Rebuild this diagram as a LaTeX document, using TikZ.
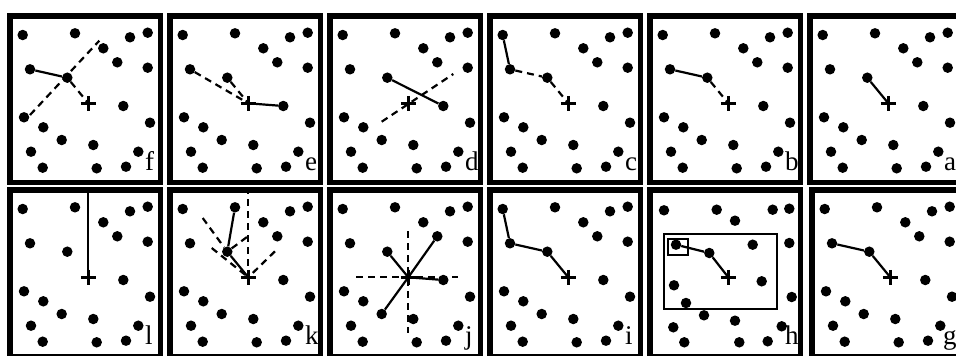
\documentclass[tikz,border=0pt]{standalone}
\usepackage{fontspec}
\setmainfont{Liberation Serif}
\usetikzlibrary{calc}
\tikzset{
  panelframe/.style={line width=5.5pt},
  dot/.style={circle, fill, inner sep=0pt, minimum size=10.5pt},
  solidline/.style={line width=2.2pt},
  dashline/.style={line width=2.2pt, dash pattern=on 7pt off 5pt},
  boxline/.style={line width=2pt},
  lbl/.style={anchor=base west, inner sep=0pt, font=\fontsize{27}{27}\selectfont},
  crossmark/.style={line width=3.2pt},
}
\def\stdlist{1/15.7/22, 2/68/20.3, 3/123/24.3, 4/140.7/19.7, 5/96.3/35.3, 6/110.3/49.3, 7/140.7/54.7, 8/23/56.3, 9/60.3/64.7, 10/116.3/93, 11/17/104.3, 12/36.3/114.3, 13/143/109.7, 14/54.7/127, 15/86.3/132, 16/24/138.7, 17/131.3/138.7, 18/35.7/154.7, 19/89.7/155.3, 20/119/153.7}
\def\hlist{1/17/23.3, 2/69.7/22.7, 3/125.7/22.7, 4/142.3/21.7, 5/88/33.7, 6/105.7/57.7, 7/142.3/56, 8/29/57.7, 9/62.3/66, 10/114.7/94.3, 11/27/98.3, 12/39/116, 13/144.7/110, 14/57/128.3, 15/88/133.7, 16/26.3/140.3, 17/134.7/139.3, 18/37.3/155.3, 19/92.3/155.3, 20/120.7/154.3}
\newcommand\panelframe{\draw[panelframe] (2.75,2.75) rectangle (153.25,169.25);}
\newcommand\plusmark{\coordinate (c) at (81.3,90.3);
  \draw[crossmark] (c) +(-7.5,0) -- +(7.5,0) (c) +(0,-7.5) -- +(0,7.5);}
\newcommand\stddots{\foreach \n/\x/\y in \stdlist {\node[dot] (p\n) at (\x,\y) {};}\plusmark}
\newcommand\hdots{\foreach \n/\x/\y in \hlist {\node[dot] (p\n) at (\x,\y) {};}\plusmark}
\begin{document}
\begin{tikzpicture}[x=1pt,y=-1pt]
\useasboundingbox (0,0) rectangle (956,356);
\clip (0,0) rectangle (956,356);
% ---------- row 1 ----------
% f
\begin{scope}[shift={(7,13)}]
  \panelframe\stddots
  \coordinate (fa) at (23,102); \coordinate (fb) at (92.3,27.7);
  \draw[dashline] (fa) -- (fb);
  \draw[solidline] (p8) -- (p9);
  \draw[dashline] (p9) -- (c);
  \node[lbl] (lf) at (138,157) {f};
\end{scope}
% e
\begin{scope}[shift={(167,13)}]
  \panelframe\stddots
  \draw[dashline] (p8) -- (c);
  \draw[dashline] (p9) -- (c);
  \draw[solidline] (c) -- (p10);
  \node[lbl] (le) at (138,157) {e};
\end{scope}
% d
\begin{scope}[shift={(327,13)}]
  \panelframe\stddots
  \coordinate (da) at (54.7,108.7); \coordinate (db) at (126.3,61);
  \draw[dashline] (da) -- (db);
  \draw[solidline] (p9) -- (p10);
  \node[lbl] (ld) at (138,157) {d};
\end{scope}
% c
\begin{scope}[shift={(487,13)}]
  \panelframe\stddots
  \draw[solidline] (p1) -- (p8);
  \draw[dashline] (p8) -- (p9);
  \draw[dashline] (p9) -- (c);
  \node[lbl] (lc) at (138,157) {c};
\end{scope}
% b
\begin{scope}[shift={(647,13)}]
  \panelframe\stddots
  \draw[solidline] (p8) -- (p9);
  \draw[dashline] (p9) -- (c);
  \node[lbl] (lb) at (138,157) {b};
\end{scope}
% a
\begin{scope}[shift={(807,13)}]
  \panelframe\stddots
  \draw[solidline] (p9) -- (c);
  \node[lbl] (la) at (137,157) {a};
\end{scope}
% ---------- row 2 ----------
% l
\begin{scope}[shift={(7,187)}]
  \panelframe\stddots
  \coordinate (lt) at (81.3,0);
  \draw[solidline] (lt) -- (c);
  \node[lbl] (ll) at (138,157) {l};
\end{scope}
% k
\begin{scope}[shift={(167,187)}]
  \panelframe\stddots
  \coordinate (kt) at (81.3,0);
  \coordinate (ka) at (35.7,31); \coordinate (kb) at (108,64.3);
  \coordinate (kc) at (44.7,61); \coordinate (kd) at (83,47.7);
  \draw[dashline] (kt) -- (c);
  \draw[dashline] (ka) -- (p9);
  \draw[dashline] (kc) -- (c);
  \draw[dashline] (p9) -- (kd);
  \draw[dashline] (kb) -- (c);
  \draw[solidline] (p2) -- (p9);
  \draw[solidline] (p9) -- (c);
  \node[lbl] (lk) at (138,157) {k};
\end{scope}
% j
\begin{scope}[shift={(327,187)}]
  \panelframe\stddots
  \coordinate (jl) at (29,90.3); \coordinate (jr) at (131.3,90.3);
  \coordinate (ju) at (81.3,44.3); \coordinate (jd) at (81.3,146);
  \draw[dashline] (jl) -- (jr);
  \draw[dashline] (ju) -- (jd);
  \draw[solidline] (c) -- (p9);
  \draw[solidline] (c) -- (p6);
  \draw[solidline] (c) -- (p14);
  \draw[solidline] (c) -- (p10);
  \node[lbl] (lj) at (138,157) {j};
\end{scope}
% i
\begin{scope}[shift={(487,187)}]
  \panelframe\stddots
  \draw[solidline] (p1) -- (p8) -- (p9) -- (c);
  \node[lbl] (li) at (138,157) {i};
\end{scope}
% h
\begin{scope}[shift={(647,187)}]
  \panelframe\hdots
  \coordinate (hb1) at (17,47); \coordinate (hb2) at (129.7,122);
  \coordinate (hs1) at (20.7,51.7); \coordinate (hs2) at (40.7,67.7);
  \draw[boxline] (hb1) rectangle (hb2);
  \draw[boxline] (hs1) rectangle (hs2);
  \draw[solidline] (p8) -- (p9) -- (c);
  \node[lbl] (lh) at (138,157) {h};
\end{scope}
% g
\begin{scope}[shift={(809,187)}]
  \panelframe\stddots
  \draw[solidline] (p8) -- (p9) -- (c);
  \node[lbl] (lg) at (134,157) {g};
\end{scope}
\end{tikzpicture}
\end{document}
